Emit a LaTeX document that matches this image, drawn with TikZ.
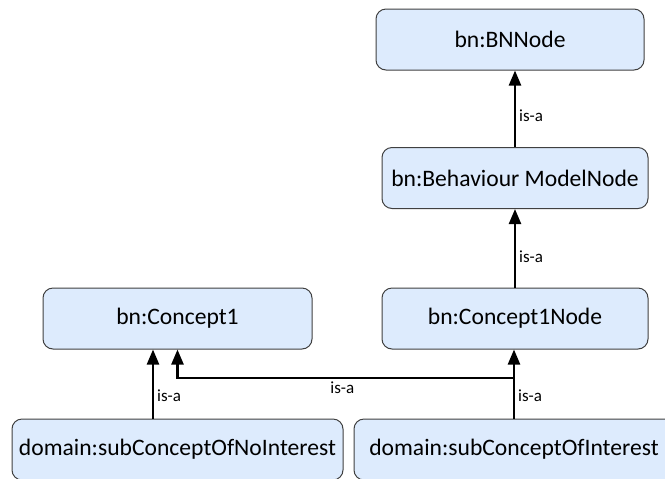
\documentclass[tikz,border=0pt]{standalone}
\usepackage{fontspec}
\setmainfont{Carlito}
\usetikzlibrary{arrows.meta}
\definecolor{boxfill}{RGB}{221,235,253}
\definecolor{boxline}{RGB}{64,64,64}

\begin{document}
\begin{tikzpicture}[
    x=0.5pt, y=-0.5pt,
    every node/.style={font=\fontsize{11.8}{14}\selectfont},
    concept/.style={draw=boxline, fill=boxfill, rounded corners=5pt, line width=0.5pt,
                    minimum height=30.5pt, inner sep=0pt},
    isa/.style={-{Triangle[length=7.5pt,width=6pt]}, line width=1.2pt},
    isalabel/.style={font=\fontsize{8.5}{10}\selectfont, inner sep=1.5pt}]

\useasboundingbox (0,0) rectangle (665,478);

% the classes
\node[concept, minimum width=134pt] (bnnode)    at (510,39.5)  {bn:BNNode};
\node[concept, minimum width=133pt] (behaviour) at (515,178)   {bn:Behaviour ModelNode};
\node[concept, minimum width=133pt] (c1node)    at (515,318.5) {bn:Concept1Node};
\node[concept, minimum width=134.5pt] (concept1) at (177.5,318.5) {bn:Concept1};
\node[concept, minimum width=165.5pt] (noint)   at (177.5,449.5) {domain:subConceptOfNoInterest};
\node[concept, minimum width=160pt] (interest)  at (514,449.5) {domain:subConceptOfInterest};

% is-a links
\draw[isa] (behaviour.north) -- node[isalabel, right, pos=0.41] {is-a} (behaviour.north |- bnnode.south);
\draw[isa] (c1node.north) -- node[isalabel, right, pos=0.39] {is-a} (behaviour.south);
\draw[isa] (interest.north) -- node[isalabel, right, pos=0.33] {is-a} (interest.north |- c1node.south);
\draw[isa] ([xshift=-12.25pt]noint.north) -- node[isalabel, right, pos=0.33] {is-a}
           ([xshift=-12.25pt]noint.north |- concept1.south);

\coordinate (branch) at (514,378);
\draw[isa] (branch) -- node[isalabel, below, pos=0.51] {is-a} (branch -| concept1.south) -- (concept1.south);

\end{tikzpicture}
\end{document}
